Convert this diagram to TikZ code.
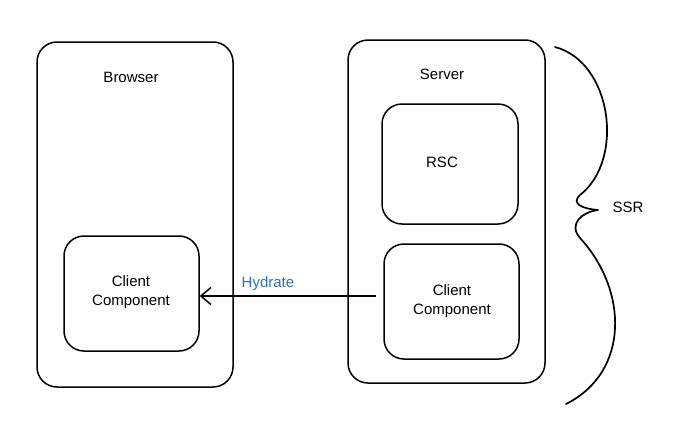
\documentclass[tikz,border=0pt]{standalone}
\usepackage{fontspec}
\setmainfont{Liberation Sans}
\usetikzlibrary{arrows.meta}
\definecolor{hblue}{HTML}{2F6FC0}
\tikzset{
  box/.style={draw=black, line width=1.5pt, rounded corners=20pt, inner sep=0pt},
  lbl/.style={font=\fontsize{15}{19}\selectfont, align=center, inner sep=0pt},
}
\begin{document}
\begin{tikzpicture}[x=1pt,y=-1pt]
\useasboundingbox (0,0) rectangle (680,434);
% Browser
\node[box, minimum width=196pt, minimum height=345pt] (browser) at (135,214.5) {};
\node[lbl] (browserlbl) at (131,77) {Browser};
\node[box, minimum width=135pt, minimum height=115pt] (bclient) at (131.5,293.5) {};
\node[lbl] (bclientlbl) at (131,292) {Client\\Component};
% Server
\node[box, minimum width=197pt, minimum height=343pt] (server) at (446.5,211.5) {};
\node[lbl] (serverlbl) at (442,74) {Server};
\node[box, minimum width=136pt, minimum height=120pt] (rsc) at (450,164) {};
\node[lbl] (rsclbl) at (442,162) {RSC};
\node[box, minimum width=135pt, minimum height=115pt] (sclient) at (451.5,301.5) {};
\node[lbl] (sclientlbl) at (452,301) {Client\\Component};
% Hydrate arrow
\coordinate (hs) at (376,296);
\draw[line width=1.6pt, -{Straight Barb[length=10pt,width=17pt,line width=1.5pt]}] (hs) -- (hs -| bclient.east);
\node[lbl, text=hblue] (hydrate) at (268,284) {Hydrate};
% SSR brace
\draw[line width=1.7pt, line cap=round, line join=round]
  (555,47) .. controls (612,62) and (625,160) .. (580,195)
  .. controls (570,204) and (584,209) .. (598,210)
  .. controls (582,212) and (568,224) .. (580,238)
  .. controls (628,290) and (630,372) .. (566,404);
\node[lbl] (ssr) at (628,207) {SSR};
\end{tikzpicture}
\end{document}
